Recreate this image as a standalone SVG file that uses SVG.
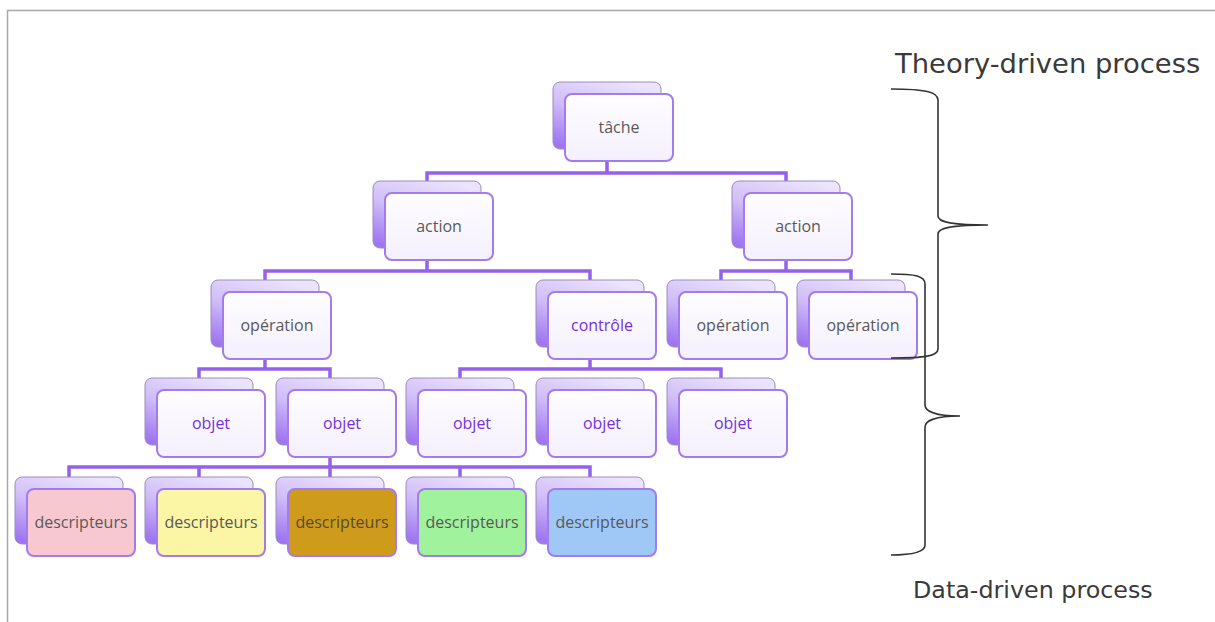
<svg xmlns="http://www.w3.org/2000/svg" width="1215" height="622" viewBox="0 0 1215 622">
<style>
.back{fill:url(#bk);stroke:#9a8cbb;stroke-width:1}
.front{fill:url(#fr);stroke:#a27bec;stroke-width:2}
.lbl{font-family:"Open Sans","Liberation Sans",sans-serif;font-size:16px;text-anchor:middle;fill:#595959}
.pur{fill:#7530dc}
.conn{fill:none;stroke:#9461ea;stroke-width:3.5;stroke-linejoin:miter}
.brace{fill:none;stroke:#333;stroke-width:1.6}
.side{font-family:"DejaVu Sans","Liberation Sans",sans-serif;fill:#3a3a3a}
</style>
<defs>
<linearGradient id="bk" x1="0.7" y1="0" x2="0.2" y2="1">
<stop offset="0" stop-color="#ece4fc"/>
<stop offset="0.5" stop-color="#d0bdf8"/>
<stop offset="1" stop-color="#9f76f0"/>
</linearGradient>
<linearGradient id="fr" x1="0" y1="0" x2="0" y2="1">
<stop offset="0" stop-color="#fefdff"/>
<stop offset="1" stop-color="#f4f0fd"/>
</linearGradient>
</defs>
<rect x="0" y="0" width="1215" height="622" fill="#fff"/>
<path d="M1215,10.5 H7.5 V622" fill="none" stroke="#a8a8a8" stroke-width="1.5"/>

<g id="connectors">
<path class="conn" d="M607,161 V173 M427,181 V173 H786 V181"/>
<path class="conn" d="M427,260 V271 M265,280 V271 H590 V280 M786,260 V271 M721,280 V271 H851 V280"/>
<path class="conn" d="M265,359 V369 M199,378 V369 H330 V378 M590,359 V369 M460,378 V369 H721 V378"/>
<path class="conn" d="M330,457 V467 M69,477 V467 H590 V477 M199,467 V477 M330,467 V477 M460,467 V477"/>
</g>

<g id="n-tache"><rect class="back" x="553" y="82" width="108" height="67" rx="7"/><rect class="front" x="565" y="94" width="108" height="67" rx="7"/><text class="lbl" x="619" y="133">tâche</text></g>
<g id="n-action1"><rect class="back" x="373" y="181" width="108" height="67" rx="7"/><rect class="front" x="385" y="193" width="108" height="67" rx="7"/><text class="lbl" x="439" y="232">action</text></g>
<g id="n-action2"><rect class="back" x="732" y="181" width="108" height="67" rx="7"/><rect class="front" x="744" y="193" width="108" height="67" rx="7"/><text class="lbl" x="798" y="232">action</text></g>
<g id="n-operation1"><rect class="back" x="211" y="280" width="108" height="67" rx="7"/><rect class="front" x="223" y="292" width="108" height="67" rx="7"/><text class="lbl" x="277" y="331">opération</text></g>
<g id="n-controle"><rect class="back" x="536" y="280" width="108" height="67" rx="7"/><rect class="front" x="548" y="292" width="108" height="67" rx="7"/><text class="lbl pur" x="602" y="331">contrôle</text></g>
<g id="n-operation2"><rect class="back" x="667" y="280" width="108" height="67" rx="7"/><rect class="front" x="679" y="292" width="108" height="67" rx="7"/><text class="lbl" x="733" y="331">opération</text></g>
<g id="n-operation3"><rect class="back" x="797" y="280" width="108" height="67" rx="7"/><rect class="front" x="809" y="292" width="108" height="67" rx="7"/><text class="lbl" x="863" y="331">opération</text></g>

<g id="n-objet1"><rect class="back" x="145" y="378" width="108" height="67" rx="7"/><rect class="front" x="157" y="390" width="108" height="67" rx="7"/><text class="lbl pur" x="211" y="429">objet</text></g>
<g id="n-objet2"><rect class="back" x="276" y="378" width="108" height="67" rx="7"/><rect class="front" x="288" y="390" width="108" height="67" rx="7"/><text class="lbl pur" x="342" y="429">objet</text></g>
<g id="n-objet3"><rect class="back" x="406" y="378" width="108" height="67" rx="7"/><rect class="front" x="418" y="390" width="108" height="67" rx="7"/><text class="lbl pur" x="472" y="429">objet</text></g>
<g id="n-objet4"><rect class="back" x="536" y="378" width="108" height="67" rx="7"/><rect class="front" x="548" y="390" width="108" height="67" rx="7"/><text class="lbl pur" x="602" y="429">objet</text></g>
<g id="n-objet5"><rect class="back" x="667" y="378" width="108" height="67" rx="7"/><rect class="front" x="679" y="390" width="108" height="67" rx="7"/><text class="lbl pur" x="733" y="429">objet</text></g>

<g id="n-desc1"><rect class="back" x="15" y="477" width="108" height="67" rx="7"/><rect class="front" style="fill:#f8c8d1" x="27" y="489" width="108" height="67" rx="7"/><text class="lbl" x="81" y="528">descripteurs</text></g>
<g id="n-desc2"><rect class="back" x="145" y="477" width="108" height="67" rx="7"/><rect class="front" style="fill:#fbf6a6" x="157" y="489" width="108" height="67" rx="7"/><text class="lbl" x="211" y="528">descripteurs</text></g>
<g id="n-desc3"><rect class="back" x="276" y="477" width="108" height="67" rx="7"/><rect class="front" style="fill:#cf9b1c" x="288" y="489" width="108" height="67" rx="7"/><text class="lbl" style="fill:#574a2c" x="342" y="528">descripteurs</text></g>
<g id="n-desc4"><rect class="back" x="406" y="477" width="108" height="67" rx="7"/><rect class="front" style="fill:#a0f39c" x="418" y="489" width="108" height="67" rx="7"/><text class="lbl" x="472" y="528">descripteurs</text></g>
<g id="n-desc5"><rect class="back" x="536" y="477" width="108" height="67" rx="7"/><rect class="front" style="fill:#9fc8f7" x="548" y="489" width="108" height="67" rx="7"/><text class="lbl" x="602" y="528">descripteurs</text></g>

<g id="braces">
<path class="brace" d="M891,89 C925,89 938,92 938,100 L938,216 C938,222 950,225 988,225 C950,225 938,228 938,234 L938,349 C938,356 925,358 891,358"/>
<path class="brace" d="M891,274 C915,274 925,276 925,284 L925,405 C925,411 935,416 960,416 C935,416 925,421 925,427 L925,545 C925,551 915,555 891,555"/>
</g>
<text class="side" x="895" y="73" font-size="27.4">Theory-driven process</text>
<text class="side" x="913" y="598" font-size="23.8">Data-driven process</text>
</svg>
